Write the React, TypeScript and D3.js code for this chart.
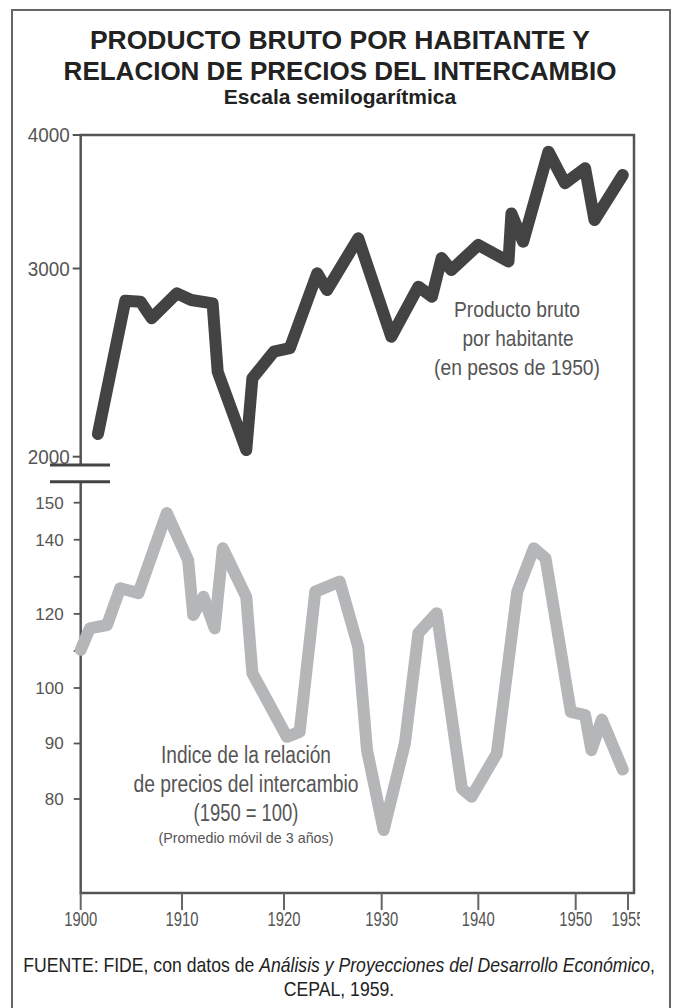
import React from 'react'
import * as d3 from 'd3'

const width = 673
const height = 1008

// Producto bruto por habitante (pesos de 1950)
const pbYears = [1901.7, 1904.4, 1905.9, 1907.0, 1909.5, 1910.9, 1913.0, 1913.5, 1916.3, 1916.9, 1919.0, 1920.6, 1923.4, 1924.4, 1927.6, 1931.0, 1933.8, 1935.2, 1936.2, 1937.2, 1940.0, 1943.1, 1943.4, 1944.6, 1947.2, 1948.9, 1950.9, 1951.8, 1954.5]
const pbValues = [2100, 2799, 2793, 2695, 2844, 2803, 2783, 2402, 2029, 2368, 2508, 2527, 2969, 2864, 3202, 2590, 2885, 2823, 3068, 2990, 3156, 3046, 3378, 3178, 3859, 3605, 3723, 3330, 3670]

// Indice de la relación de precios del intercambio (1950 = 100)
const ripYears = [1900, 1900.9, 1902.6, 1903.9, 1905.7, 1908.5, 1910.6, 1911.1, 1912.1, 1913.2, 1914.0, 1916.3, 1916.9, 1920.3, 1921.6, 1923.2, 1925.7, 1927.6, 1928.5, 1930.2, 1932.4, 1933.8, 1935.7, 1938.3, 1939.3, 1941.9, 1944.0, 1945.7, 1946.9, 1949.5, 1950.9, 1951.5, 1952.5, 1954.5]
const ripValues = [110.3, 116.1, 117.0, 126.9, 125.6, 147.2, 134.5, 119.7, 124.6, 116.1, 137.7, 124.6, 104.0, 91.2, 92.1, 126.0, 128.7, 111.1, 88.8, 74.4, 90.0, 114.8, 120.2, 81.9, 80.4, 88.2, 126.0, 137.7, 135.0, 95.7, 95.1, 88.8, 94.3, 85.3]

const xTicks = [1900, 1910, 1920, 1930, 1940, 1950, 1955]
const topTicks = [2000, 3000, 4000]
const botTicks = [80, 90, 100, 110, 120, 130, 140, 150]
const botLabeled = [80, 90, 100, 120, 140, 150]

const sans = "'Liberation Sans', Arial, sans-serif"

// the original x axis is not perfectly even, so the scale follows its ticks
const x = d3.scaleLinear()
  .domain(xTicks)
  .range([80.7, 182, 284, 381.7, 478.3, 575.7, 628])

const yTop = d3.scaleLog().domain([2000, 4000]).range([456.7, 135])
// lower panel: 10 points = 55.5px below 100, 37px above
const yBot = d3.scaleLinear().domain([80, 100, 150]).range([799, 688, 502.7])

const frameRight = 634
const frameBottom = 893
const breakTop = 465
const breakBottom = 481.7

const pbLine = d3.line<number>()
  .x((_, i) => x(pbYears[i]))
  .y(d => yTop(d))

const ripLine = d3.line<number>()
  .x((_, i) => x(ripYears[i]))
  .y(d => yBot(d))

// no condensed face installed, so squeeze the text to the reference widths
const Narrow = ({ x, y, w, size, fill = '#555', children }: any) => (
  <text x={x} y={y} fontSize={size} fill={fill} textAnchor="middle"
    textLength={w} lengthAdjust="spacingAndGlyphs">{children}</text>
)

const App = () => {
  const x0 = x(1900)
  return (
    <svg width={width} height={height} style={{ position: 'absolute', left: 0, top: 0, background: '#fff' }}>
      <defs>
        <clipPath id="xclip">
          <rect x={0} y={0} width={640} height={height} />
        </clipPath>
      </defs>
      <rect x={12} y={10} width={658} height={1010} fill="#fff" stroke="#666" strokeWidth={2} />

      <g fontFamily={sans} fontWeight="bold" fill="#222" textAnchor="middle">
        <text x={340} y={49} fontSize={26.5}>PRODUCTO BRUTO POR HABITANTE Y</text>
        <text x={340} y={80} fontSize={26}>RELACION DE PRECIOS DEL INTERCAMBIO</text>
        <text x={340} y={104} fontSize={21}>Escala semilogarítmica</text>
      </g>

      {/* frame */}
      <g stroke="#555" strokeWidth={2.5} fill="none">
        <path d={`M${x0},${breakTop}V135H${frameRight}V${frameBottom}H${x0}V${breakBottom}`} />
        <line x1={50} x2={110} y1={breakTop} y2={breakTop} stroke="#444" strokeWidth={3} />
        <line x1={50} x2={110} y1={breakBottom} y2={breakBottom} stroke="#444" strokeWidth={3} />
      </g>

      {/* y axis, upper panel */}
      <g fontFamily={sans} fill="#555">
        {topTicks.map(t => (
          <g key={t}>
            <line x1={x0 - 8} x2={x0} y1={yTop(t)} y2={yTop(t)} stroke="#555" strokeWidth={2} />
            <text x={x0 - 11} y={yTop(t)} dy="0.36em" fontSize={20} textAnchor="end"
              textLength={42} lengthAdjust="spacingAndGlyphs">{t}</text>
          </g>
        ))}
      </g>

      {/* y axis, lower panel */}
      <g fontFamily={sans} fontSize={17} fill="#555">
        {botTicks.map(t => (
          <g key={t}>
            <line x1={x0 - 7} x2={x0} y1={yBot(t)} y2={yBot(t)} stroke="#555" strokeWidth={1.8} />
            {botLabeled.includes(t) && (
              <text x={x0 - 17} y={yBot(t)} dy="0.35em" textAnchor="end">{t}</text>
            )}
          </g>
        ))}
      </g>

      {/* x axis */}
      <g fontFamily={sans} clipPath="url(#xclip)">
        {xTicks.map(t => (
          <g key={t}>
            <line x1={x(t)} x2={x(t)} y1={frameBottom} y2={frameBottom + 17} stroke="#666" strokeWidth={2} />
            <Narrow x={x(t)} y={926} w={33} size={20.5}>{t}</Narrow>
          </g>
        ))}
      </g>

      <path d={ripLine(ripValues) || ''} fill="none" stroke="#b5b6b8" strokeWidth={12} strokeLinejoin="round" strokeLinecap="round" />
      <path d={pbLine(pbValues) || ''} fill="none" stroke="#434343" strokeWidth={12} strokeLinejoin="round" strokeLinecap="round" />

      <g fontFamily={sans}>
        <Narrow x={517} y={317} w={126} size={22}>Producto bruto</Narrow>
        <Narrow x={518} y={346} w={111} size={22}>por habitante</Narrow>
        <Narrow x={517} y={375} w={166} size={22}>(en pesos de 1950)</Narrow>
      </g>

      <g fontFamily={sans}>
        <Narrow x={246} y={763} w={170} size={23}>Indice de la relación</Narrow>
        <Narrow x={246} y={792} w={225} size={23}>de precios del intercambio</Narrow>
        <Narrow x={246} y={821} w={105} size={23}>(1950 = 100)</Narrow>
        <Narrow x={246} y={843} w={175} size={15}>(Promedio móvil de 3 años)</Narrow>
      </g>

      <g fontFamily={sans} fontSize={20.5} fill="#222" textAnchor="middle">
        <g transform="translate(339,972) scale(0.86,1)">
          <text x={0} y={0}>
            FUENTE: FIDE, con datos de <tspan fontStyle="italic">Análisis y Proyecciones del Desarrollo Económico</tspan>,
          </text>
        </g>
        <g transform="translate(339,996) scale(0.86,1)">
          <text x={0} y={0}>CEPAL, 1959.</text>
        </g>
      </g>
    </svg>
  )
}

export default App
